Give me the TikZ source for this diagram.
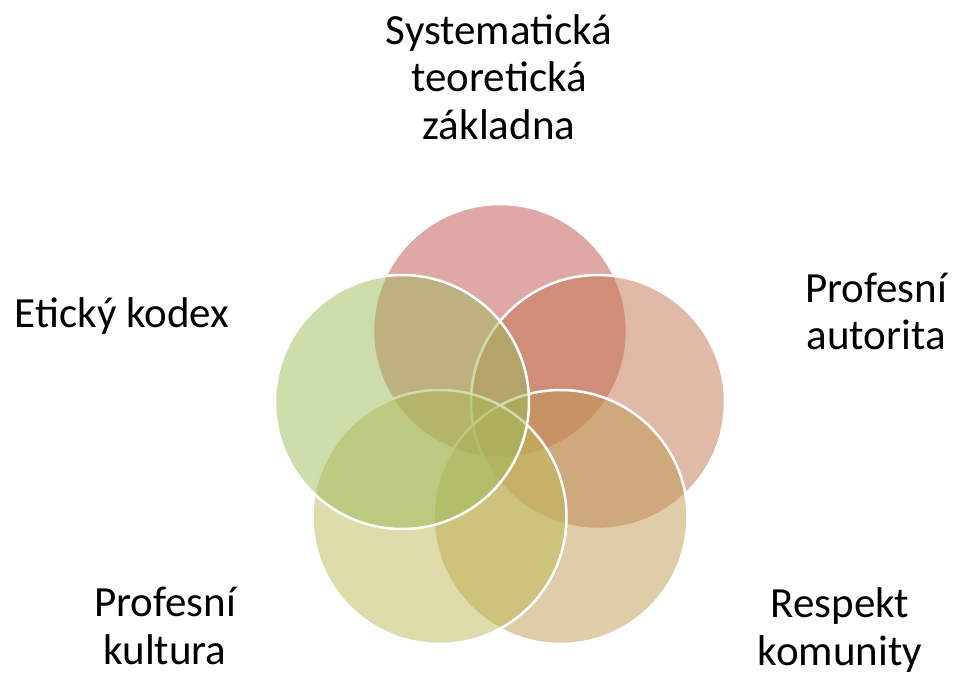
\documentclass[tikz,border=0pt]{standalone}
\usepackage{fontspec}
\setmainfont{Carlito}
\usepackage{xcolor}
\usepackage{tikz}
\usetikzlibrary{positioning}

\definecolor{ringA}{RGB}{192,80,77}
\definecolor{ringB}{RGB}{193,115,79}
\definecolor{ringC}{RGB}{191,155,81}
\definecolor{ringD}{RGB}{189,185,85}
\definecolor{ringE}{RGB}{155,187,89}

\begin{document}
\begin{tikzpicture}[x=1pt,
			y=-1pt,
			ring/.style={circle, draw=white, line width=2.5pt, fill opacity=0.5, minimum size=254pt, inner sep=0pt},
			txt/.style={align=center, inner sep=0pt, font=\fontsize{43}{47.5}\selectfont}]
			
			\useasboundingbox (0,0) rectangle (954,677);
			
			\node[ring, fill=ringA] (a) at (500,331) {};
			\node[ring, fill=ringB] (b) at (598,402) {};
			\node[ring, fill=ringC] (c) at (560.5,517) {};
			\node[ring, fill=ringD] (d) at (439.5,517) {};
			\node[ring, fill=ringE] (e) at (402,402) {};
			
			\node[txt] (ta) at (499,77) {Systematická\\teoretická\\základna};
			\node[txt] (tb) at (876,311.5) {Profesní\\autorita};
			\node[txt] (tc) at (840,630) {Respekt\\komunity};
			\node[txt] (td) at (165,626) {Profesní\\kultura};
			\node[txt] (te) at (122,316) {Etický kodex};
		\end{tikzpicture}
\end{document}
